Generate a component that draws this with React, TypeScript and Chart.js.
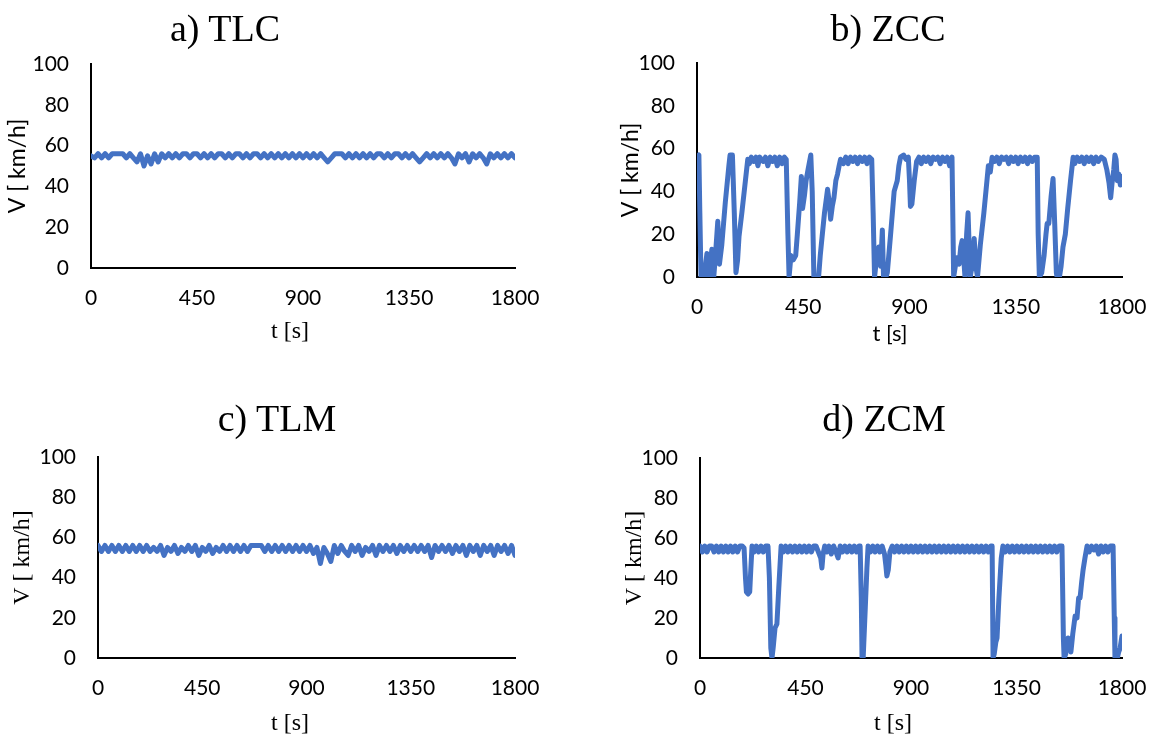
import React, { useEffect, useRef } from "react";
import { Chart, registerables } from "chart.js";

Chart.register(...registerables);

// ---------- tick labels ----------
const X_TICKS = [0, 450, 900, 1350, 1800];
const Y_TICKS = [0, 20, 40, 60, 80, 100];

// ---------- titles ----------
const PANEL_TITLES = ["a) TLC", "b) ZCC", "c) TLM", "d) ZCM"];
const X_TITLE = "t [s]";
const Y_TITLE = "V [ km/h]";

// ---------- a) TLC and c) TLM share a 15 s sampling grid ----------
const GRID_T = [
  0, 15, 30, 45, 60, 75, 90, 105, 120, 135,
  150, 165, 180, 195, 210, 225, 240, 255, 270, 285,
  300, 315, 330, 345, 360, 375, 390, 405, 420, 435,
  450, 465, 480, 495, 510, 525, 540, 555, 570, 585,
  600, 615, 630, 645, 660, 675, 690, 705, 720, 735,
  750, 765, 780, 795, 810, 825, 840, 855, 870, 885,
  900, 915, 930, 945, 960, 975, 990, 1005, 1020, 1035,
  1050, 1065, 1080, 1095, 1110, 1125, 1140, 1155, 1170, 1185,
  1200, 1215, 1230, 1245, 1260, 1275, 1290, 1305, 1320, 1335,
  1350, 1365, 1380, 1395, 1410, 1425, 1440, 1455, 1470, 1485,
  1500, 1515, 1530, 1545, 1560, 1575, 1590, 1605, 1620, 1635,
  1650, 1665, 1680, 1695, 1710, 1725, 1740, 1755, 1770, 1785,
  1800,
];

const TLC_V = [
  55, 54, 56, 54, 56, 54, 56, 56, 56, 56,
  54, 56, 54, 52, 56, 50, 55, 51, 56, 52,
  56, 54, 56, 54, 56, 54, 56, 56, 54, 56,
  56, 54, 56, 54, 56, 54, 56, 56, 54, 56,
  54, 56, 56, 54, 56, 54, 56, 56, 54, 56,
  54, 56, 54, 56, 54, 56, 54, 56, 54, 56,
  54, 56, 54, 56, 54, 56, 54, 52, 54, 56,
  56, 56, 54, 56, 54, 56, 54, 56, 54, 56,
  54, 56, 56, 54, 56, 54, 56, 56, 54, 56,
  54, 56, 54, 52, 54, 56, 54, 56, 54, 56,
  54, 56, 54, 51, 56, 54, 56, 52, 56, 54,
  56, 54, 51, 56, 54, 56, 54, 56, 54, 56,
  54,
];

const TLM_V = [
  56, 53, 56, 53, 56, 53, 56, 53, 56, 53,
  56, 53, 56, 53, 56, 53, 55, 53, 56, 51,
  55, 53, 56, 52, 55, 53, 56, 53, 56, 51,
  55, 53, 56, 52, 55, 53, 56, 53, 56, 53,
  56, 53, 56, 53, 56, 56, 56, 56, 53, 56,
  53, 56, 53, 56, 53, 56, 53, 56, 53, 56,
  53, 56, 52, 55, 47, 55, 52, 48, 56, 52,
  56, 53, 51, 56, 53, 56, 51, 55, 53, 56,
  51, 56, 53, 56, 53, 56, 52, 56, 53, 56,
  53, 56, 53, 56, 53, 56, 50, 56, 53, 56,
  53, 56, 52, 56, 53, 56, 51, 56, 53, 56,
  51, 56, 53, 56, 51, 56, 53, 56, 52, 56,
  51,
];

// ---------- b) ZCC ----------
const ZCC_T = [
  0, 8, 12, 17, 30, 42, 51, 58, 63, 71, 78, 88, 95, 105, 120, 135, 140, 150, 158, 165,
  172, 178, 190, 205, 215, 222, 230, 240, 250, 258, 266, 280, 290, 300, 310, 320, 330, 340, 350, 360,
  370, 378, 385, 390, 398, 408, 418, 425, 435, 442, 447, 455, 462, 470, 482, 488, 495, 505, 515, 522,
  530, 540, 553, 560, 566, 573, 580, 588, 595, 602, 608, 620, 630, 640, 650, 660, 670, 680, 690, 700,
  710, 720, 730, 740, 746, 752, 760, 770, 778, 785, 790, 800, 806, 820, 835, 848, 855, 862, 875, 885,
  895, 900, 904, 910, 920, 930, 940, 950, 960, 970, 980, 990, 1000, 1010, 1020, 1030, 1040, 1050, 1060, 1070,
  1080, 1087, 1094, 1100, 1110, 1117, 1123, 1130, 1135, 1142, 1148, 1157, 1165, 1174, 1181, 1188, 1200, 1215, 1228, 1234,
  1242, 1250, 1260, 1270, 1280, 1290, 1300, 1310, 1320, 1330, 1340, 1350, 1360, 1370, 1380, 1390, 1400, 1410, 1420, 1430,
  1441, 1445, 1450, 1460, 1470, 1478, 1483, 1490, 1500, 1508, 1515, 1522, 1525, 1535, 1542, 1550, 1560, 1570, 1582, 1593,
  1600, 1610, 1620, 1630, 1640, 1650, 1660, 1670, 1680, 1690, 1700, 1712, 1725, 1736, 1745, 1752, 1758, 1765, 1770, 1775,
  1780, 1787, 1793, 1800,
];
const ZCC_V = [
  56, 57, 30, 0, 0, 11, 0, 8, 13, 0, 10, 26, 6, 15, 35, 52, 57, 57, 30, 2,
  8, 19, 30, 45, 55, 53, 56, 54, 56, 52, 56, 54, 56, 52, 56, 54, 56, 52, 56, 53,
  56, 55, 20, 0, 10, 8, 10, 20, 35, 47, 32, 38, 45, 50, 57, 40, 0, 0, 0, 10,
  19, 30, 41, 35, 27, 33, 37, 45, 48, 52, 55, 53, 56, 53, 56, 54, 56, 53, 56, 54,
  56, 53, 56, 55, 30, 0, 8, 14, 5, 22, 0, 0, 2, 20, 40, 45, 52, 56, 57, 55,
  56, 45, 33, 34, 45, 54, 56, 53, 56, 54, 56, 53, 56, 55, 56, 53, 56, 54, 56, 52,
  56, 0, 5, 9, 6, 14, 17, 8, 0, 20, 30, 0, 5, 18, 5, 0, 15, 30, 45, 52,
  49, 56, 54, 56, 53, 56, 55, 56, 53, 56, 54, 56, 53, 56, 54, 56, 53, 56, 54, 56,
  56, 20, 0, 2, 10, 20, 25, 25, 38, 46, 25, 2, 0, 0, 5, 14, 20, 32, 45, 56,
  53, 56, 54, 56, 53, 56, 54, 56, 53, 56, 54, 56, 55, 50, 44, 37, 44, 50, 57, 55,
  45, 48, 43, 47,
];

// ---------- d) ZCM ----------
const ZCM_T = [
  0, 10, 20, 30, 40, 50, 60, 70, 80, 90, 100, 110, 120, 130, 140, 150, 160, 170, 180, 188,
  194, 198, 205, 212, 217, 222, 230, 240, 250, 260, 270, 280, 290, 296, 302, 307, 312, 320, 328, 336,
  346, 355, 365, 375, 385, 395, 405, 415, 425, 435, 445, 455, 465, 475, 485, 495, 505, 515, 520, 525,
  532, 540, 550, 560, 570, 580, 589, 598, 608, 618, 628, 638, 648, 658, 668, 678, 683, 688, 691, 696,
  705, 712, 717, 727, 737, 747, 757, 767, 777, 787, 793, 797, 803, 810, 820, 830, 840, 850, 860, 870,
  880, 890, 900, 910, 920, 930, 940, 950, 960, 970, 980, 990, 1000, 1010, 1020, 1030, 1040, 1050, 1060, 1070,
  1080, 1090, 1100, 1110, 1120, 1130, 1140, 1150, 1160, 1170, 1180, 1190, 1200, 1210, 1220, 1230, 1240, 1246, 1250, 1255,
  1262, 1267, 1275, 1285, 1292, 1302, 1312, 1322, 1332, 1342, 1352, 1362, 1372, 1382, 1392, 1402, 1412, 1422, 1432, 1442,
  1452, 1462, 1472, 1482, 1492, 1502, 1512, 1522, 1532, 1544, 1550, 1553, 1560, 1570, 1576, 1582, 1590, 1600, 1608, 1615,
  1621, 1628, 1634, 1642, 1651, 1660, 1670, 1680, 1690, 1700, 1710, 1720, 1730, 1740, 1750, 1762, 1767, 1770, 1780, 1786,
  1792, 1796, 1800,
];
const ZCM_V = [
  56, 53, 56, 53, 56, 56, 53, 56, 53, 56, 53, 56, 53, 56, 53, 56, 53, 56, 56, 55,
  40, 33, 32, 33, 45, 56, 53, 56, 53, 56, 53, 56, 56, 40, 5, 0, 5, 15, 17, 35,
  56, 53, 56, 53, 56, 53, 56, 53, 56, 53, 56, 53, 56, 53, 56, 56, 53, 50, 45, 52,
  56, 53, 56, 52, 56, 53, 50, 56, 53, 56, 53, 56, 53, 56, 53, 56, 56, 30, 0, 0,
  25, 45, 56, 53, 56, 53, 56, 53, 56, 52, 46, 41, 44, 53, 56, 53, 56, 53, 56, 53,
  56, 53, 56, 53, 56, 53, 56, 53, 56, 53, 56, 53, 56, 53, 56, 53, 56, 53, 56, 53,
  56, 53, 56, 53, 56, 53, 56, 53, 56, 53, 56, 53, 56, 53, 56, 53, 56, 56, 0, 2,
  8, 10, 30, 50, 56, 53, 56, 53, 56, 53, 56, 53, 56, 53, 56, 53, 56, 53, 56, 53,
  56, 53, 56, 53, 56, 53, 56, 53, 56, 56, 10, 0, 2, 10, 8, 3, 12, 21, 20, 30,
  30, 38, 44, 50, 56, 53, 56, 54, 56, 52, 56, 53, 56, 53, 56, 56, 20, 0, 0, 3,
  5, 8, 11,
];

const BLUE = "#4472C4";
const SANS = "Lato, 'Open Sans', sans-serif";
const SERIF = "'Liberation Serif', 'Times New Roman', serif";
const TICK_SIZE = 21;

type PanelProps = {
  times: number[];
  speeds: number[];
  lineWidth: number;
  x: number; y: number; w: number; h: number;
  padTop: number; padRight: number;
  yAxisWidth: number; xAxisHeight: number;
  yTickPad: number; xTickPad: number;
  yTitleFamily: string; yTitleSize: number; yTitlePad: number;
};

function Panel(p: PanelProps) {
  const ref = useRef<HTMLCanvasElement>(null);
  useEffect(() => {
    const pts = p.times.map((t, i) => ({ x: t, y: p.speeds[i] }));
    const axisCommon = {
      grid: { display: true, drawOnChartArea: false, drawTicks: false },
      border: { display: true, color: "#000", width: 2 },
    };
    const chart = new Chart(ref.current as HTMLCanvasElement, {
      type: "line",
      data: {
        datasets: [
          {
            data: pts,
            borderColor: BLUE,
            backgroundColor: BLUE,
            borderWidth: p.lineWidth,
            pointRadius: 0,
            tension: 0,
            fill: false,
            borderJoinStyle: "round",
            borderCapStyle: "round",
          },
        ],
      },
      options: {
        animation: false,
        responsive: false,
        events: [],
        layout: { padding: { top: p.padTop, right: p.padRight, left: 0, bottom: 0 } },
        plugins: {
          legend: { display: false },
          title: { display: false },
          tooltip: { enabled: false },
        },
        scales: {
          x: {
            type: "linear",
            min: X_TICKS[0],
            max: X_TICKS[X_TICKS.length - 1],
            ...axisCommon,
            afterBuildTicks: (s: any) => {
              s.ticks = X_TICKS.map((v) => ({ value: v }));
            },
            afterFit: (s: any) => {
              s.height = p.xAxisHeight;
              s.paddingLeft = 0;
              s.paddingRight = 0;
            },
            ticks: {
              font: { family: SANS, size: TICK_SIZE },
              color: "#000",
              padding: p.xTickPad,
              maxRotation: 0,
              autoSkip: false,
              callback: (v: any) => String(v),
            },
          },
          y: {
            type: "linear",
            min: Y_TICKS[0],
            max: Y_TICKS[Y_TICKS.length - 1],
            ...axisCommon,
            afterBuildTicks: (s: any) => {
              s.ticks = Y_TICKS.map((v) => ({ value: v }));
            },
            afterFit: (s: any) => {
              s.width = p.yAxisWidth;
              s.paddingTop = 0;
              s.paddingBottom = 0;
            },
            ticks: {
              font: { family: SANS, size: TICK_SIZE },
              color: "#000",
              padding: p.yTickPad,
              callback: (v: any) => String(v),
            },
            title: {
              display: true,
              text: Y_TITLE,
              color: "#000",
              font: { family: p.yTitleFamily, size: p.yTitleSize },
              padding: { top: p.yTitlePad, bottom: 0 },
            },
          },
        },
      } as any,
    });
    return () => chart.destroy();
  }, []);
  return (
    <canvas
      ref={ref}
      width={p.w}
      height={p.h}
      style={{ position: "absolute", left: p.x, top: p.y, width: p.w, height: p.h }}
    />
  );
}

function Label(props: { text: string; cx: number; cy: number; family: string; size: number }) {
  return (
    <div
      style={{
        position: "absolute",
        left: props.cx,
        top: props.cy,
        transform: "translate(-50%, -50%)",
        fontFamily: props.family,
        fontSize: props.size,
        lineHeight: 1,
        whiteSpace: "nowrap",
        color: "#000",
      }}
    >
      {props.text}
    </div>
  );
}

export default function App() {
  return (
    <div
      style={{
        position: "absolute",
        left: 0,
        top: 0,
        width: 1155,
        height: 735,
        background: "#fff",
        overflow: "hidden",
      }}
    >
      {/* a) TLC */}
      <Panel
        times={GRID_T} speeds={TLC_V} lineWidth={5}
        x={0} y={40} w={560} h={315}
        padTop={24} padRight={45}
        yAxisWidth={91} xAxisHeight={87}
        yTickPad={22} xTickPad={18}
        yTitleFamily={SANS} yTitleSize={23} yTitlePad={4}
      />
      {/* b) ZCC */}
      <Panel
        times={ZCC_T} speeds={ZCC_V} lineWidth={5}
        x={600} y={40} w={555} h={315}
        padTop={23} padRight={33}
        yAxisWidth={97} xAxisHeight={78}
        yTickPad={22} xTickPad={18}
        yTitleFamily={SANS} yTitleSize={23} yTitlePad={17}
      />
      {/* c) TLM */}
      <Panel
        times={GRID_T} speeds={TLM_V} lineWidth={5}
        x={0} y={430} w={560} h={305}
        padTop={27} padRight={45}
        yAxisWidth={98} xAxisHeight={77}
        yTickPad={22} xTickPad={18}
        yTitleFamily={SERIF} yTitleSize={24} yTitlePad={8}
      />
      {/* d) ZCM */}
      <Panel
        times={ZCM_T} speeds={ZCM_V} lineWidth={5}
        x={600} y={430} w={555} h={305}
        padTop={28} padRight={33}
        yAxisWidth={100} xAxisHeight={77}
        yTickPad={22} xTickPad={18}
        yTitleFamily={SERIF} yTitleSize={24} yTitlePad={20}
      />

      <Label text={PANEL_TITLES[0]} cx={225} cy={28} family={SERIF} size={38} />
      <Label text={PANEL_TITLES[1]} cx={888} cy={28} family={SERIF} size={38} />
      <Label text={PANEL_TITLES[2]} cx={277} cy={418} family={SERIF} size={38} />
      <Label text={PANEL_TITLES[3]} cx={884} cy={418} family={SERIF} size={38} />

      <Label text={X_TITLE} cx={290} cy={330} family={SERIF} size={24} />
      <Label text={X_TITLE} cx={890} cy={333} family={SANS} size={22} />
      <Label text={X_TITLE} cx={290} cy={722} family={SERIF} size={24} />
      <Label text={X_TITLE} cx={893} cy={722} family={SERIF} size={24} />
    </div>
  );
}
